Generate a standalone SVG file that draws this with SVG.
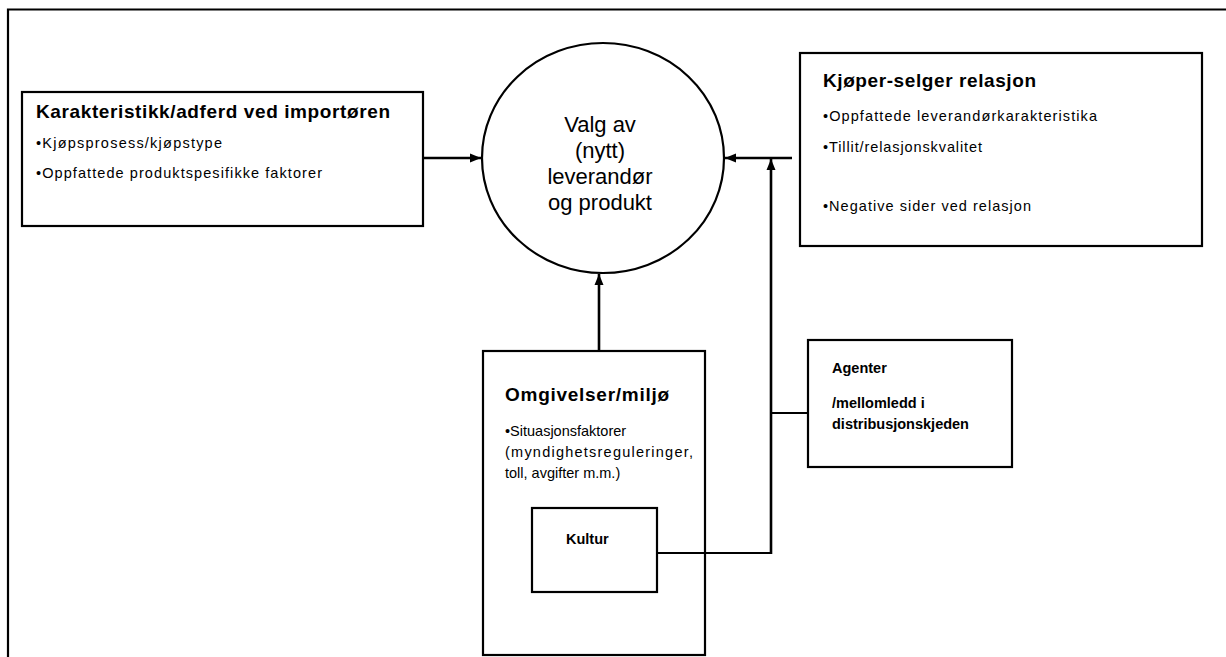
<svg xmlns="http://www.w3.org/2000/svg" width="1226" height="657" viewBox="0 0 1226 657">
<defs>
<style>
.box{fill:#fff;stroke:#000;stroke-width:2.2}
.ln{fill:none;stroke:#000;stroke-width:2.2}
.ar{fill:none;stroke:#000;stroke-width:2.6}
.t{font-family:"Liberation Sans",Arial,sans-serif;fill:#000}
.h{font-weight:bold;font-size:19px}
.b{font-size:14.5px}
.hb{font-weight:bold;font-size:14.5px}
.c{font-size:22px;text-anchor:middle}
</style>
<marker id="ah" markerWidth="12" markerHeight="10" refX="11" refY="5" orient="auto" markerUnits="userSpaceOnUse">
<path d="M0,0.5 L11,5 L0,9.5 Z" fill="#000"/>
</marker>
</defs>
<rect width="1226" height="657" fill="#fff"/>
<path class="ln" d="M8,657 V9.5 H1226"/>
<g id="importor">
<rect class="box" x="22" y="92" width="401" height="134"/>
<text class="t h" x="36" y="118" textLength="354">Karakteristikk/adferd ved importøren</text>
<text class="t b" x="36" y="148" textLength="186">•Kjøpsprosess/kjøpstype</text>
<text class="t b" x="36" y="178" textLength="286">•Oppfattede produktspesifikke faktorer</text>
</g>
<g id="valg">
<ellipse class="box" cx="603" cy="158" rx="121" ry="115"/>
<text class="t c" x="600" y="132">Valg av</text>
<text class="t c" x="600" y="158">(nytt)</text>
<text class="t c" x="600" y="184">leverandør</text>
<text class="t c" x="600" y="210">og produkt</text>
</g>
<g id="relasjon">
<rect class="box" x="800" y="53" width="402" height="193"/>
<text class="t h" x="823" y="87" textLength="213">Kjøper-selger relasjon</text>
<text class="t b" x="823" y="121" textLength="274">•Oppfattede leverandørkarakteristika</text>
<text class="t b" x="823" y="152" textLength="159">•Tillit/relasjonskvalitet</text>
<text class="t b" x="823" y="211" textLength="208">•Negative sider ved relasjon</text>
</g>
<g id="omgivelser">
<rect class="box" x="483" y="351" width="222" height="304"/>
<text class="t h" x="505" y="401" textLength="164">Omgivelser/miljø</text>
<text class="t b" x="505" y="436">•Situasjonsfaktorer</text>
<text class="t b" x="505" y="457" textLength="188">(myndighetsreguleringer,</text>
<text class="t b" x="505" y="478">toll, avgifter m.m.)</text>
</g>
<g id="kultur">
<rect class="box" x="532" y="508" width="125" height="84"/>
<text class="t hb" x="566" y="544">Kultur</text>
</g>
<g id="agenter">
<rect class="box" x="808" y="340" width="204" height="127"/>
<text class="t hb" x="832" y="373">Agenter</text>
<text class="t hb" x="832" y="408">/mellomledd i</text>
<text class="t hb" x="832" y="429">distribusjonskjeden</text>
</g>
<g id="connectors">
<line class="ar" x1="423" y1="158" x2="481" y2="158" marker-end="url(#ah)"/>
<line class="ar" x1="792" y1="158" x2="725" y2="158" marker-end="url(#ah)"/>
<line class="ar" x1="599" y1="350" x2="599" y2="274" marker-end="url(#ah)"/>
<line class="ar" x1="771" y1="554" x2="771" y2="159" marker-end="url(#ah)"/>
<line class="ln" x1="657" y1="553" x2="772" y2="553"/>
<line class="ln" x1="771" y1="413" x2="808" y2="413"/>
</g>
</svg>
